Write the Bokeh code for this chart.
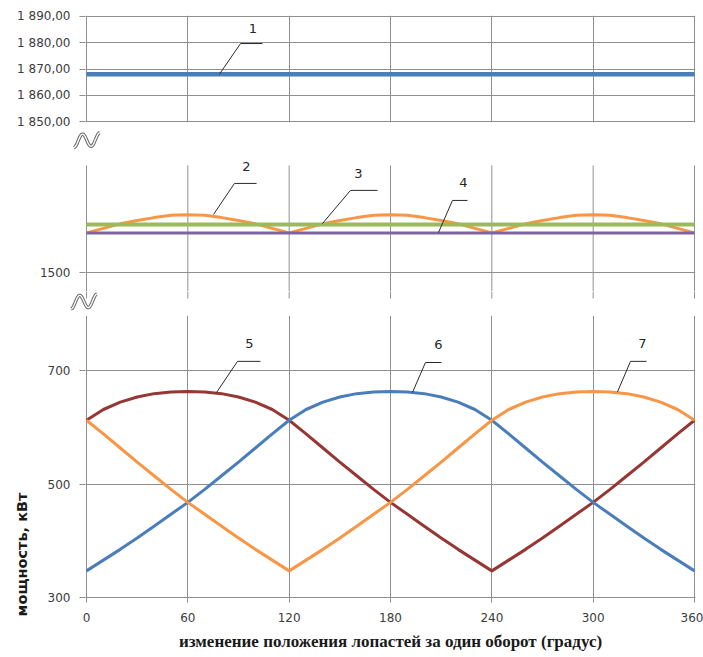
from math import pi

import numpy as np
from bokeh.embed import file_html
from bokeh.layouts import column
from bokeh.models import FixedTicker, Grid, Label, Range1d
from bokeh.plotting import figure
from bokeh.resources import INLINE

# blade position over one revolution, degrees
angle = list(range(0, 361, 10))
angle_span = [0, 360]
angle_ticks = [0, 60, 120, 180, 240, 300, 360]

# 1 - constant level, kW
line1_kw = [1868, 1868]
# 2 - summed power with ripple, kW
line2_kw = [1569, 1577, 1585, 1591, 1596, 1600, 1601, 1600, 1596, 1591, 1585, 1577,
            1569, 1577, 1585, 1591, 1596, 1600, 1601, 1600, 1596, 1591, 1585, 1577,
            1569, 1577, 1585, 1591, 1596, 1600, 1601, 1600, 1596, 1591, 1585, 1577,
            1569]
# 3, 4 - constant levels, kW
line3_kw = [1584, 1584]
line4_kw = [1569, 1569]
# 5, 6, 7 - power of the individual blades, kW
blade5_kw = [613, 632, 645, 654, 660, 663, 664, 663, 660, 654, 645, 632,
             613, 589, 564, 539, 515, 491, 468, 447, 426, 405, 385, 366,
             347, 366, 385, 405, 426, 447, 468, 491, 515, 539, 564, 589,
             613]
blade6_kw = [347, 366, 385, 405, 426, 447, 468, 491, 515, 539, 564, 589,
             613, 632, 645, 654, 660, 663, 664, 663, 660, 654, 645, 632,
             613, 589, 564, 539, 515, 491, 468, 447, 426, 405, 385, 366,
             347]
blade7_kw = [613, 589, 564, 539, 515, 491, 468, 447, 426, 405, 385, 366,
             347, 366, 385, 405, 426, 447, 468, 491, 515, 539, 564, 589,
             613, 632, 645, 654, 660, 663, 664, 663, 660, 654, 645, 632,
             613]

top_ticks = [1850, 1860, 1870, 1880, 1890]
top_tick_labels = ["1 850,00", "1 860,00", "1 870,00", "1 880,00", "1 890,00"]
mid_ticks = [1500]
mid_tick_labels = ["1500"]
bottom_ticks = [300, 500, 700]
bottom_tick_labels = ["300", "500", "700"]

x_title = "изменение положения лопастей за один оборот (градус)"
y_title = "мощность, кВт"

GRID = "#8f8f8f"
INK = "#3c3c3c"
SANS = "DejaVu Sans"
BLUE = "#4a7ebb"
ORANGE = "#f79646"
GREEN = "#9bbb59"
PURPLE = "#8064a2"
DARKRED = "#953735"

W = 703
LEFT, RIGHT = 85, 8
# a hair of padding so the 0 and 360 lines sit inside the frame
x_range = Range1d(-0.59, 360.59)
PX_PER_DEG = (W - LEFT - RIGHT) / (x_range.end - x_range.start)
# full-width range for the thin strips that carry the axis-break marks
STRIP_START = x_range.start - LEFT / PX_PER_DEG
strip_x_range = Range1d(STRIP_START, STRIP_START + W / PX_PER_DEG)


def make_panel(height, y_range, top, bottom, ticks, labels,
               with_x_axis=False, vgrid=True):
    p = figure(width=W, height=height, x_range=x_range, y_range=y_range,
               output_backend="svg", toolbar_location=None,
               x_axis_location="below" if with_x_axis else None,
               min_border_left=LEFT, min_border_right=RIGHT,
               min_border_top=top, min_border_bottom=bottom,
               frame_align=False)
    p.outline_line_color = None
    p.center = [r for r in p.center if not isinstance(r, Grid)]
    if vgrid:
        p.add_layout(Grid(dimension=0, ticker=FixedTicker(ticks=angle_ticks),
                          grid_line_color=GRID), "center")
    p.add_layout(Grid(dimension=1, ticker=FixedTicker(ticks=ticks),
                      grid_line_color=GRID), "center")
    ay = p.yaxis[0]
    ay.ticker = FixedTicker(ticks=ticks)
    ay.major_label_overrides = dict(zip(ticks, labels))
    ay.axis_line_color = None
    ay.major_tick_line_color = GRID
    ay.major_tick_out = 6
    ay.major_tick_in = 0
    ay.minor_tick_line_color = None
    ay.major_label_text_font = SANS
    ay.major_label_text_font_size = "12px"
    ay.major_label_text_color = INK
    ay.major_label_standoff = 9
    return p


def make_strip(height):
    p = figure(width=W, height=height, x_range=strip_x_range,
               y_range=Range1d(0, height), output_backend="svg",
               toolbar_location=None, x_axis_location=None, y_axis_location=None,
               min_border=0, frame_align=False)
    p.outline_line_color = None
    p.grid.visible = False
    return p


def axis_break(p, cx_px, cy):
    # double-stroked wave marking the broken value axis
    u = np.linspace(0, 1, 40)
    dx = (-13 + 26 * u) / PX_PER_DEG
    dy = -6.5 * np.cos(3 * pi * u) + 2.0 * (u - 0.5)
    cx = STRIP_START + cx_px / PX_PER_DEG
    p.line(cx + dx, cy + dy, line_color="#6e6e6e", line_width=3.4)
    p.line(cx + dx, cy + dy, line_color="white", line_width=1.3)


def callout(p, text, tx, ty, lx, ly):
    p.line(lx, ly, line_color="#2b2b2b", line_width=1)
    p.add_layout(Label(x=tx, y=ty, text=text, text_align="center",
                       text_baseline="middle", text_font=SANS,
                       text_font_size="13px", text_color="#262626"))


# upper panel: line 1
top = make_panel(128, Range1d(1849.62, 1890.38), 15, 6, top_ticks, top_tick_labels)
top.line(angle_span, line1_kw, line_color=BLUE, line_width=4.5)
callout(top, "1", 98.5, 1885.5, [78.7, 91.2, 104.2], [1868, 1879.7, 1879.7])

# break between the upper and middle panels
strip1 = make_strip(30)
axis_break(strip1, 86.3, 18.3)

# middle panel: lines 2, 3, 4
mid = make_panel(133, Range1d(1465.6, 1700.3), 0, 0, mid_ticks, mid_tick_labels,
                 vgrid=False)
mid.segment(x0=angle_ticks, y0=1465.6, x1=angle_ticks, y1=1688,
            line_color=GRID, line_width=1)
mid.line(angle, line2_kw, line_color=ORANGE, line_width=3)
mid.line(angle_span, line3_kw, line_color=GREEN, line_width=4)
mid.line(angle_span, line4_kw, line_color=PURPLE, line_width=3)
callout(mid, "2", 94.7, 1686, [75.2, 87.6, 100.7], [1601.5, 1656.3, 1656.3])
callout(mid, "3", 161.0, 1674, [139.7, 156.3, 172.3], [1585.5, 1644, 1644])
callout(mid, "4", 223.2, 1658, [208.4, 216.7, 225.6], [1569.5, 1626.3, 1626.3])

# break between the middle and lower panels (grid lines run on a little)
strip2 = make_strip(24)
strip2.segment(x0=angle_ticks, y0=17, x1=angle_ticks, y1=24,
               line_color=GRID, line_width=1)
axis_break(strip2, 83.5, 14)

# lower panel: lines 5, 6, 7
bot = make_panel(342, Range1d(300, 798), 0, 60, bottom_ticks, bottom_tick_labels,
                 with_x_axis=True)
bot.line(angle, blade5_kw, line_color=DARKRED, line_width=3)
bot.line(angle, blade6_kw, line_color=BLUE, line_width=3)
bot.line(angle, blade7_kw, line_color=ORANGE, line_width=3)
callout(bot, "5", 96.5, 748, [77.0, 89.4, 103.0], [662, 717, 717])
callout(bot, "6", 208.4, 747, [193.0, 200.7, 210.2], [662, 715, 715])
callout(bot, "7", 329.2, 748, [314.4, 322.1, 331.6], [663, 717, 717])

ax = bot.xaxis[0]
ax.ticker = FixedTicker(ticks=angle_ticks)
ax.axis_line_color = GRID
ax.major_tick_line_color = GRID
ax.major_tick_out = 5
ax.major_tick_in = 0
ax.minor_tick_line_color = None
ax.major_label_text_font = SANS
ax.major_label_text_font_size = "12px"
ax.major_label_text_color = INK
ax.major_label_standoff = 10
ax.axis_label = x_title
ax.axis_label_text_font = "'Liberation Serif', serif"
ax.axis_label_text_font_style = "bold"
ax.axis_label_text_font_size = "17px"
ax.axis_label_text_color = "#1a1a1a"
ax.axis_label_standoff = 7

bot.add_layout(Label(x=-38, y=376, text=y_title, angle=pi / 2,
                     text_align="center", text_baseline="middle",
                     text_font=SANS, text_font_style="bold",
                     text_font_size="14.5px", text_color="#1a1a1a"), "left")

layout = column(top, strip1, mid, strip2, bot)
open("out.html", "w").write(file_html(layout, INLINE))
